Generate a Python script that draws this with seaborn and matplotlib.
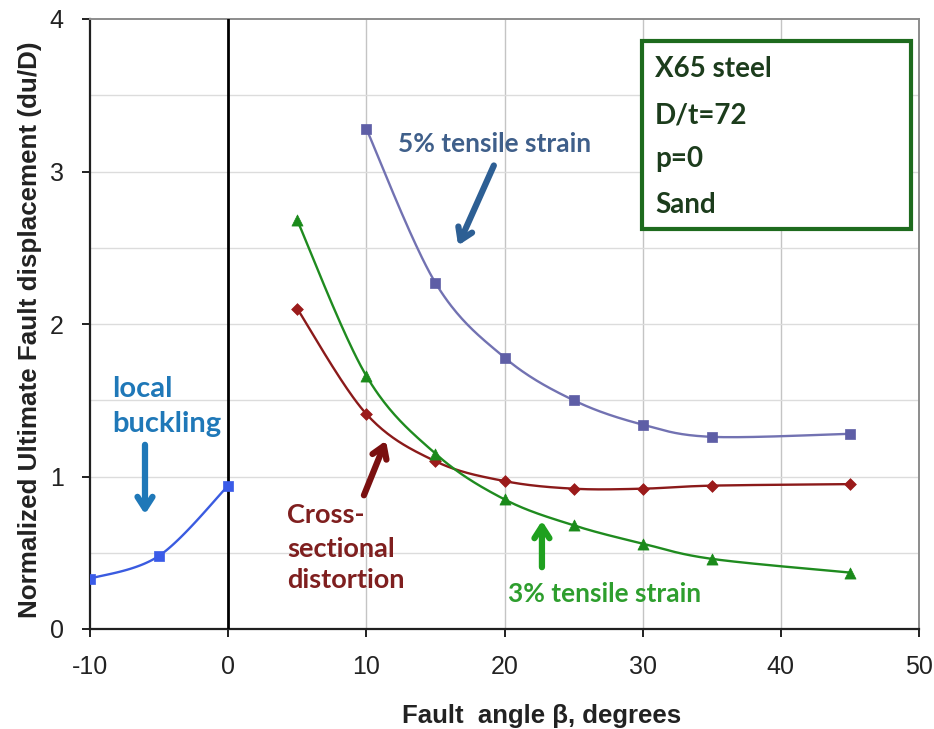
import numpy as np
import pandas as pd
import matplotlib
matplotlib.use("Agg")
import matplotlib.pyplot as plt
from matplotlib.patches import Rectangle
import seaborn as sns

# Fault angle (degrees) and normalized ultimate fault displacement du/D
angle_buckling = [-10, -5, 0]
du_buckling = [0.33, 0.48, 0.94]

angle_tensile5 = [10, 15, 20, 25, 30, 35, 45]
du_tensile5 = [3.28, 2.27, 1.78, 1.50, 1.34, 1.26, 1.28]

angle_distortion = [5, 10, 15, 20, 25, 30, 35, 45]
du_distortion = [2.10, 1.41, 1.10, 0.97, 0.92, 0.92, 0.94, 0.95]

angle_tensile3 = [5, 10, 15, 20, 25, 30, 35, 45]
du_tensile3 = [2.68, 1.66, 1.15, 0.85, 0.68, 0.56, 0.46, 0.37]

x_ticks = [-10, 0, 10, 20, 30, 40, 50]
y_ticks = [0, 1, 2, 3, 4]
box_lines = ["X65 steel", "D/t=72", "p=0", "Sand"]


def smooth_curve(xs, ys, steps=40):
    """Cubic Bezier through the points with Catmull-Rom control points."""
    p = np.column_stack([xs, ys]).astype(float)
    ext = np.vstack([p[0], p, p[-1]])
    out = [p[0]]
    t = np.linspace(0, 1, steps)[1:, None]
    for i in range(len(p) - 1):
        p0, p1, p2, p3 = ext[i], ext[i + 1], ext[i + 2], ext[i + 3]
        c1 = p1 + (p2 - p0) / 6.0
        c2 = p2 - (p3 - p1) / 6.0
        seg = ((1 - t) ** 3) * p1 + 3 * ((1 - t) ** 2) * t * c1 \
            + 3 * (1 - t) * t ** 2 * c2 + t ** 3 * p2
        out.extend(seg)
    out = np.array(out)
    return pd.DataFrame({"x": out[:, 0], "y": out[:, 1]})


sns.set_theme(style="white")
plt.rcParams["font.family"] = ["Liberation Sans", "DejaVu Sans"]

fig = plt.figure(figsize=(9.34, 7.29), dpi=100)
ax = fig.add_axes([90 / 934, 100 / 729, 829 / 934, 610 / 729])

series = [
    (angle_buckling, du_buckling, "#3a5be0", "#3a5be8", "s", 7),
    (angle_tensile5, du_tensile5, "#7272b2", "#5e5ea6", "s", 7),
    (angle_distortion, du_distortion, "#8b1a1a", "#9b1b1b", "D", 6),
    (angle_tensile3, du_tensile3, "#1f8b1f", "#1a8a1a", "^", 8),
]

for xs, ys, lc, mc, mk, ms in series:
    curve = smooth_curve(xs, ys)
    sns.lineplot(data=curve, x="x", y="y", sort=False, estimator=None,
                 color=lc, linewidth=1.7, ax=ax, zorder=4)
    pts = pd.DataFrame({"x": xs, "y": ys})
    sns.scatterplot(data=pts, x="x", y="y", marker=mk, s=ms ** 2,
                    color=mc, edgecolor=mc, linewidth=0.5, ax=ax, zorder=5)

ax.set_xlim(-10, 50)
ax.set_ylim(0, 4)
ax.set_xticks(x_ticks)
ax.set_yticks(y_ticks)
ax.set_xticklabels([str(v) for v in x_ticks])
ax.set_yticklabels([str(v) for v in y_ticks])

# grid: vertical lines at 10-degree steps, horizontal lines every 0.5
for xv in x_ticks[2:-1]:
    ax.axvline(xv, color="#c4c4c4", linewidth=1.0, zorder=1)
for yv in np.arange(0.5, 4.0, 0.5):
    ax.axhline(yv, color="#dcdcdc", linewidth=1.0, zorder=1)

# the zero-angle reference line
ax.axvline(0, color="black", linewidth=2.0, zorder=3)

for side in ["left", "bottom"]:
    ax.spines[side].set_color("#202020")
    ax.spines[side].set_linewidth(1.6)
for side in ["top", "right"]:
    ax.spines[side].set_color("#8c8c8c")
    ax.spines[side].set_linewidth(1.4)

ax.tick_params(axis="both", which="major", direction="out", length=6,
               width=1.4, color="#202020", labelsize=18, labelcolor="#222222",
               bottom=True, left=True)
ax.tick_params(axis="x", pad=13)
ax.tick_params(axis="y", pad=13)

ax.set_xlabel("Fault  angle \u03b2, degrees", fontsize=18.5, fontweight="bold",
              color="#222222")
ax.xaxis.label.set_va("baseline")
ax.xaxis.set_label_coords(0.545, -0.154)
ax.set_ylabel("Normalized Ultimate Fault displacement (du/D)", fontsize=18.7,
              fontweight="bold", color="#222222")
ax.yaxis.set_label_coords(-0.058, 0.49)

ann_font = ["Lato", "DejaVu Sans"]

# info box
ax.add_patch(Rectangle((29.95, 2.623), 19.47, 1.233, fill=True,
                       facecolor="white", edgecolor="#1e6b1e", linewidth=3,
                       zorder=6))
for txt, yb in zip(box_lines, [3.620, 3.318, 3.030, 2.728]):
    ax.text(30.89, yb, txt, fontsize=20, fontweight="bold", color="#1c3c1c",
            family=ann_font, va="baseline", ha="left", zorder=7)

arrow_style = "->,head_length=0.7,head_width=0.45"

# curve labels and arrows
ax.text(12.29, 3.128, "5% tensile strain", fontsize=19, fontweight="bold",
        color="#3f5f8a", family=ann_font, va="baseline", ha="left")
ax.annotate("", xy=(16.56, 2.498), xytext=(19.31, 3.056),
            arrowprops=dict(arrowstyle=arrow_style, color="#2d5f94", lw=4.5))

ax.text(-8.41, 1.521, "local", fontsize=21, fontweight="bold",
        color="#1f78b8", family=ann_font, va="baseline", ha="left")
ax.text(-8.41, 1.292, "buckling", fontsize=21, fontweight="bold",
        color="#1f78b8", family=ann_font, va="baseline", ha="left")
ax.annotate("", xy=(-6.02, 0.734), xytext=(-6.02, 1.226),
            arrowprops=dict(arrowstyle=arrow_style, color="#1f78b8", lw=4.5))

for txt, yb in zip(["Cross-", "sectional", "distortion"], [0.695, 0.472, 0.269]):
    ax.text(4.26, yb, txt, fontsize=19.5, fontweight="bold", color="#7f1f1f",
            family=ann_font, va="baseline", ha="left")
ax.annotate("", xy=(11.50, 1.252), xytext=(9.75, 0.86),
            arrowprops=dict(arrowstyle=arrow_style, color="#7a1010", lw=4.5))

ax.text(20.25, 0.177, "3% tensile strain", fontsize=19, fontweight="bold",
        color="#2e9e2e", family=ann_font, va="baseline", ha="left")
ax.annotate("", xy=(22.71, 0.728), xytext=(22.71, 0.387),
            arrowprops=dict(arrowstyle=arrow_style, color="#1fa01f", lw=4.5))

fig.savefig("out.png", dpi=100, facecolor="white")
